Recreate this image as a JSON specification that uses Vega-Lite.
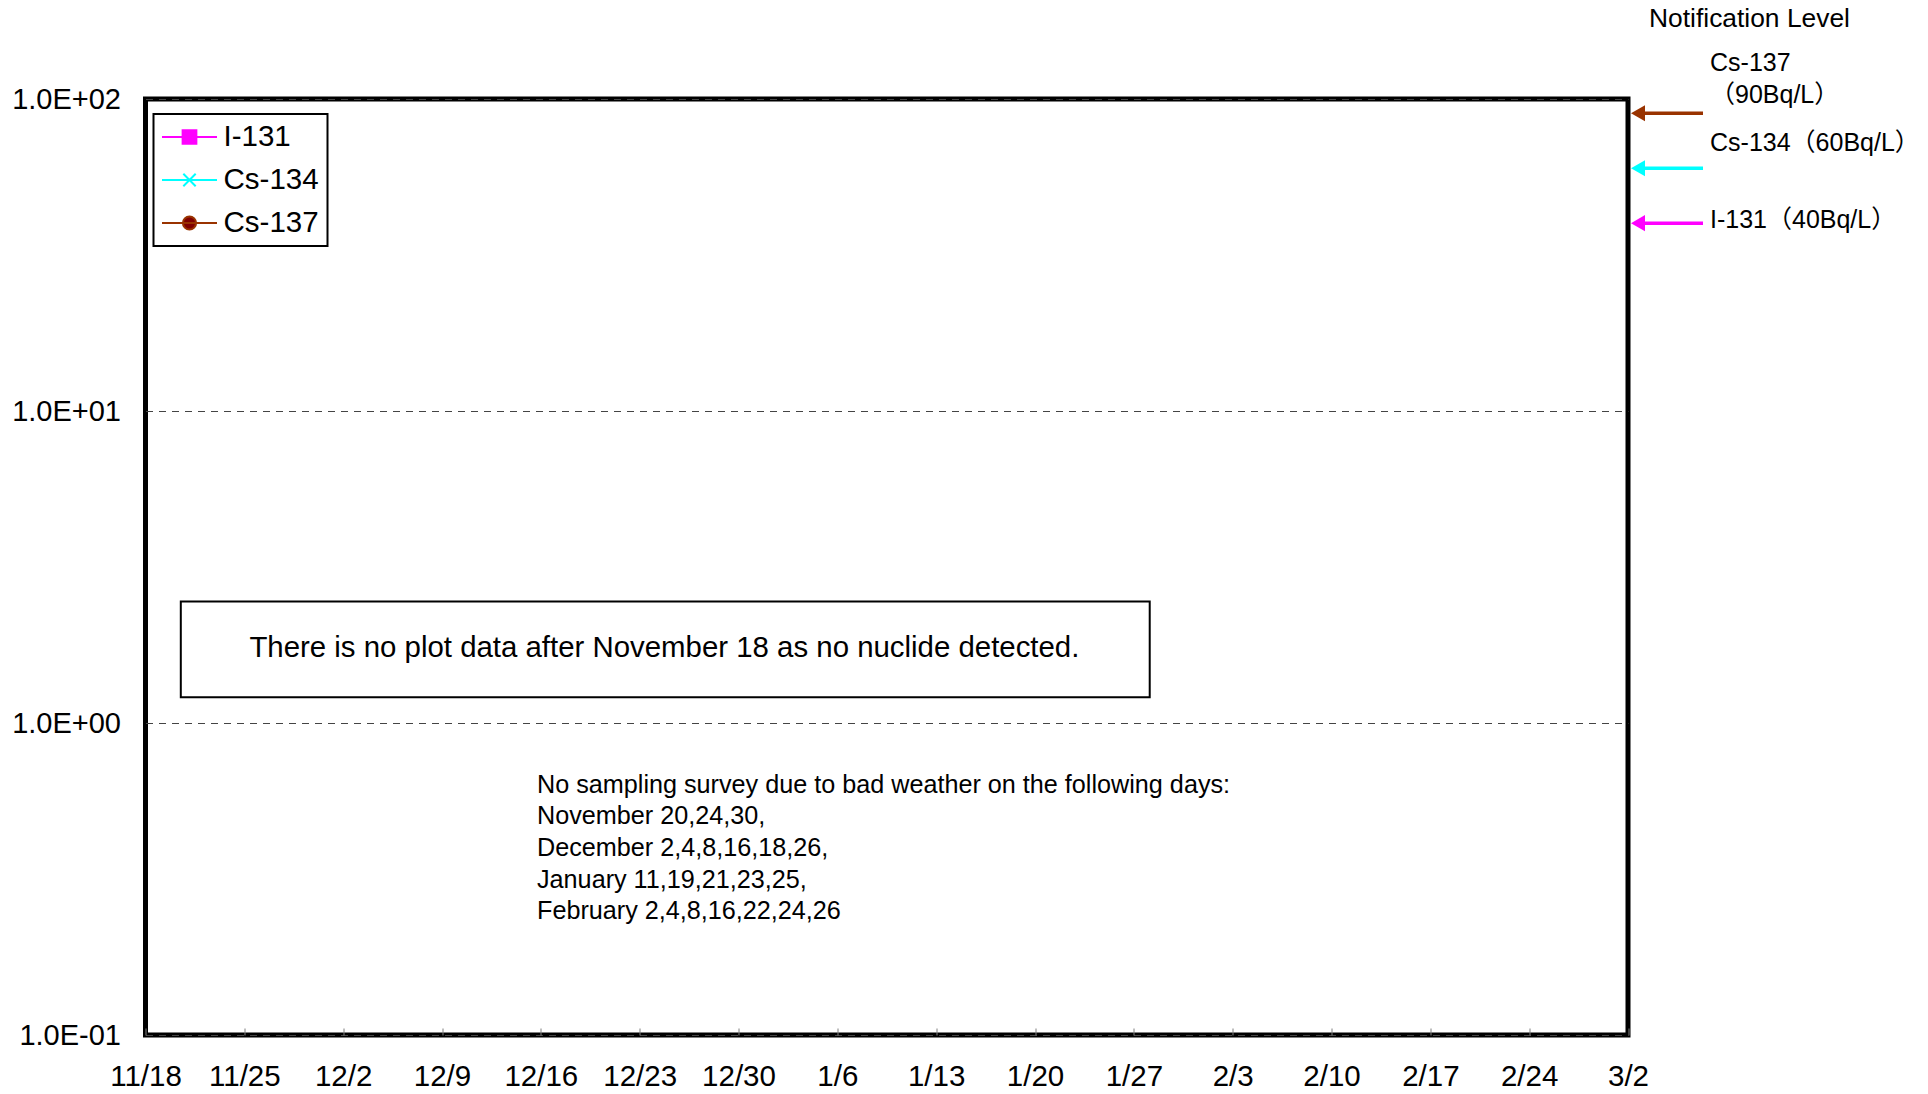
{
  "$schema": "https://vega.github.io/schema/vega-lite/v6.json",
  "width": 1482.5,
  "height": 936,
  "autosize": {"type": "none"},
  "padding": {"left": 145.5, "top": 99, "right": 300, "bottom": 59},
  "background": "white",
  "config": {
    "view": {"stroke": "black", "strokeWidth": 5},
    "font": "Liberation Sans",
    "axis": {"labelFont": "Liberation Sans", "labelFontSize": 29.5, "labelColor": "black", "domain": false, "title": null},
    "legend": {
      "orient": "none", "legendX": 8, "legendY": 15, "padding": 8,
      "strokeColor": "black", "strokeWidth": 2, "fillColor": "white",
      "symbolSize": 756, "symbolStrokeWidth": 2, "symbolOpacity": 1, "symbolOffset": 13,
      "labelFont": "Liberation Sans", "labelFontSize": 29.5, "labelColor": "black",
      "labelOffset": 19, "rowPadding": 13
    }
  },
  "datasets": {
    "measurements": [
      {"date": "2011-11-18", "nuclide": "I-131", "value": null},
      {"date": "2011-11-18", "nuclide": "Cs-134", "value": null},
      {"date": "2011-11-18", "nuclide": "Cs-137", "value": null}
    ],
    "levels": [
      {"nuclide": "Cs-137", "level": 90, "label": "Cs-137\n（90Bq/L）"},
      {"nuclide": "Cs-134", "level": 60, "label": "Cs-134（60Bq/L）"},
      {"nuclide": "I-131", "level": 40, "label": "I-131（40Bq/L）"}
    ],
    "notes": [
      {"id": "nodata", "text": "There is no plot data after November 18 as no nuclide detected."},
      {"id": "weather", "text": "No sampling survey due to bad weather on the following days:\nNovember 20,24,30,\nDecember 2,4,8,16,18,26,\nJanuary 11,19,21,23,25,\nFebruary 2,4,8,16,22,24,26"},
      {"id": "notif", "text": "Notification Level"}
    ]
  },
  "layer": [
    {
      "data": {"name": "measurements"},
      "mark": {"type": "point", "filled": true, "opacity": 1},
      "encoding": {
        "x": {
          "field": "date", "type": "temporal",
          "scale": {"type": "utc", "domain": [{"year": 2011, "month": 11, "date": 18, "utc": true}, {"year": 2012, "month": 3, "date": 2, "utc": true}]},
          "axis": {
            "values": [
              {"year": 2011, "month": 11, "date": 18, "utc": true},
              {"year": 2011, "month": 11, "date": 25, "utc": true},
              {"year": 2011, "month": 12, "date": 2, "utc": true},
              {"year": 2011, "month": 12, "date": 9, "utc": true},
              {"year": 2011, "month": 12, "date": 16, "utc": true},
              {"year": 2011, "month": 12, "date": 23, "utc": true},
              {"year": 2011, "month": 12, "date": 30, "utc": true},
              {"year": 2012, "month": 1, "date": 6, "utc": true},
              {"year": 2012, "month": 1, "date": 13, "utc": true},
              {"year": 2012, "month": 1, "date": 20, "utc": true},
              {"year": 2012, "month": 1, "date": 27, "utc": true},
              {"year": 2012, "month": 2, "date": 3, "utc": true},
              {"year": 2012, "month": 2, "date": 10, "utc": true},
              {"year": 2012, "month": 2, "date": 17, "utc": true},
              {"year": 2012, "month": 2, "date": 24, "utc": true},
              {"year": 2012, "month": 3, "date": 2, "utc": true}
            ],
            "labelExpr": "utcFormat(datum.value, '%-m/%-d')",
            "tickSize": -7, "tickColor": "#808080", "tickWidth": 1,
            "labelPadding": 34, "grid": false, "labelFlush": false, "labelOverlap": false
          }
        },
        "y": {
          "field": "value", "type": "quantitative",
          "scale": {"type": "log", "domain": [0.1, 100]},
          "axis": {
            "values": [0.1, 1, 10, 100],
            "labelExpr": "'1.0E' + (datum.value >= 1 ? '+' : '-') + '0' + abs(round(log(datum.value) / LN10))",
            "ticks": false, "tickSize": 0, "labelPadding": 25, "labelFontSize": 29,
            "grid": true, "gridDash": [7, 6], "gridColor": "#444444", "gridWidth": 1,
            "labelFlush": false, "labelOverlap": false
          }
        },
        "color": {
          "field": "nuclide", "type": "nominal",
          "scale": {"domain": ["I-131", "Cs-134", "Cs-137"], "range": ["#FF00FF", "#00FFFF", "#800000"]},
          "legend": {
            "title": null,
            "encode": {"symbols": {"update": {"stroke": {"scale": "color", "field": "value"}, "strokeWidth": {"value": 2}}}}
          }
        },
        "shape": {
          "field": "nuclide", "type": "nominal",
          "scale": {
            "domain": ["I-131", "Cs-134", "Cs-137"],
            "range": [
              "M-2,0H2M-0.5,-0.5H0.5V0.5H-0.5Z",
              "M-2,0H2M-0.45,-0.45L0.45,0.45M-0.45,0.45L0.45,-0.45",
              "M-2,0H2M0.48,0A0.48,0.48,0,1,1,-0.48,0A0.48,0.48,0,1,1,0.48,0Z"
            ]
          },
          "legend": {"title": null}
        }
      }
    },
    {
      "data": {"name": "notes"},
      "transform": [{"filter": "datum.id === 'nodata'"}],
      "mark": {"type": "rect", "fill": "transparent", "stroke": "black", "strokeWidth": 2},
      "encoding": {
        "x": {"datum": {"year": 2011, "month": 11, "date": 20, "hours": 12, "utc": true}, "type": "temporal"},
        "x2": {"datum": {"year": 2012, "month": 1, "date": 28, "hours": 3, "utc": true}},
        "y": {"datum": 2.45, "type": "quantitative"},
        "y2": {"datum": 1.21}
      }
    },
    {
      "data": {"name": "notes"},
      "transform": [{"filter": "datum.id === 'nodata'"}],
      "mark": {"type": "text", "align": "center", "baseline": "middle", "fontSize": 29.4, "font": "Liberation Sans", "color": "black"},
      "encoding": {
        "x": {"datum": {"year": 2011, "month": 12, "date": 24, "hours": 18, "utc": true}, "type": "temporal"},
        "y": {"datum": 1.74, "type": "quantitative"},
        "text": {"field": "text"}
      }
    },
    {
      "data": {"name": "notes"},
      "transform": [{"filter": "datum.id === 'weather'"}],
      "mark": {"type": "text", "align": "left", "baseline": "middle", "fontSize": 25.2, "font": "Liberation Sans", "color": "black", "lineBreak": "\n", "lineHeight": 31.7},
      "encoding": {
        "x": {"datum": {"year": 2011, "month": 12, "date": 15, "hours": 17, "minutes": 30, "utc": true}, "type": "temporal"},
        "y": {"datum": 0.635, "type": "quantitative"},
        "text": {"field": "text"}
      }
    },
    {
      "data": {"name": "notes"},
      "transform": [{"filter": "datum.id === 'notif'"}],
      "mark": {"type": "text", "align": "left", "baseline": "middle", "fontSize": 26.4, "font": "Liberation Sans", "color": "black", "dx": 21, "dy": -80},
      "encoding": {
        "x": {"datum": {"year": 2012, "month": 3, "date": 2, "utc": true}, "type": "temporal"},
        "y": {"datum": 100, "type": "quantitative"},
        "text": {"field": "text"}
      }
    },
    {
      "data": {"name": "levels"},
      "mark": {"type": "rule", "strokeWidth": 3.5, "xOffset": 9, "x2Offset": 75},
      "encoding": {
        "x": {"datum": {"year": 2012, "month": 3, "date": 2, "utc": true}, "type": "temporal"},
        "x2": {"datum": {"year": 2012, "month": 3, "date": 2, "utc": true}},
        "y": {"field": "level", "type": "quantitative"},
        "stroke": {"field": "nuclide", "type": "nominal", "scale": {"domain": ["I-131", "Cs-134", "Cs-137"], "range": ["#FF00FF", "#00FFFF", "#993300"]}, "legend": null}
      }
    },
    {
      "data": {"name": "levels"},
      "mark": {"type": "point", "shape": "triangle-left", "filled": true, "size": 260, "opacity": 1, "strokeWidth": 0, "xOffset": 10},
      "encoding": {
        "x": {"datum": {"year": 2012, "month": 3, "date": 2, "utc": true}, "type": "temporal"},
        "y": {"field": "level", "type": "quantitative"},
        "fill": {"field": "nuclide", "type": "nominal", "scale": {"domain": ["I-131", "Cs-134", "Cs-137"], "range": ["#FF00FF", "#00FFFF", "#993300"]}, "legend": null}
      }
    },
    {
      "data": {"name": "levels"},
      "transform": [{"filter": "datum.nuclide === 'Cs-137'"}],
      "mark": {"type": "text", "align": "left", "baseline": "middle", "fontSize": 25, "font": "Liberation Sans, Noto Sans CJK JP", "color": "black", "dx": 82, "dy": -50.5, "lineBreak": "\n", "lineHeight": 32},
      "encoding": {
        "x": {"datum": {"year": 2012, "month": 3, "date": 2, "utc": true}, "type": "temporal"},
        "y": {"field": "level", "type": "quantitative"},
        "text": {"field": "label"}
      }
    },
    {
      "data": {"name": "levels"},
      "transform": [{"filter": "datum.nuclide === 'Cs-134'"}],
      "mark": {"type": "text", "align": "left", "baseline": "middle", "fontSize": 25, "font": "Liberation Sans, Noto Sans CJK JP", "color": "black", "dx": 82, "dy": -25},
      "encoding": {
        "x": {"datum": {"year": 2012, "month": 3, "date": 2, "utc": true}, "type": "temporal"},
        "y": {"field": "level", "type": "quantitative"},
        "text": {"field": "label"}
      }
    },
    {
      "data": {"name": "levels"},
      "transform": [{"filter": "datum.nuclide === 'I-131'"}],
      "mark": {"type": "text", "align": "left", "baseline": "middle", "fontSize": 25, "font": "Liberation Sans, Noto Sans CJK JP", "color": "black", "dx": 82, "dy": -3},
      "encoding": {
        "x": {"datum": {"year": 2012, "month": 3, "date": 2, "utc": true}, "type": "temporal"},
        "y": {"field": "level", "type": "quantitative"},
        "text": {"field": "label"}
      }
    }
  ]
}
